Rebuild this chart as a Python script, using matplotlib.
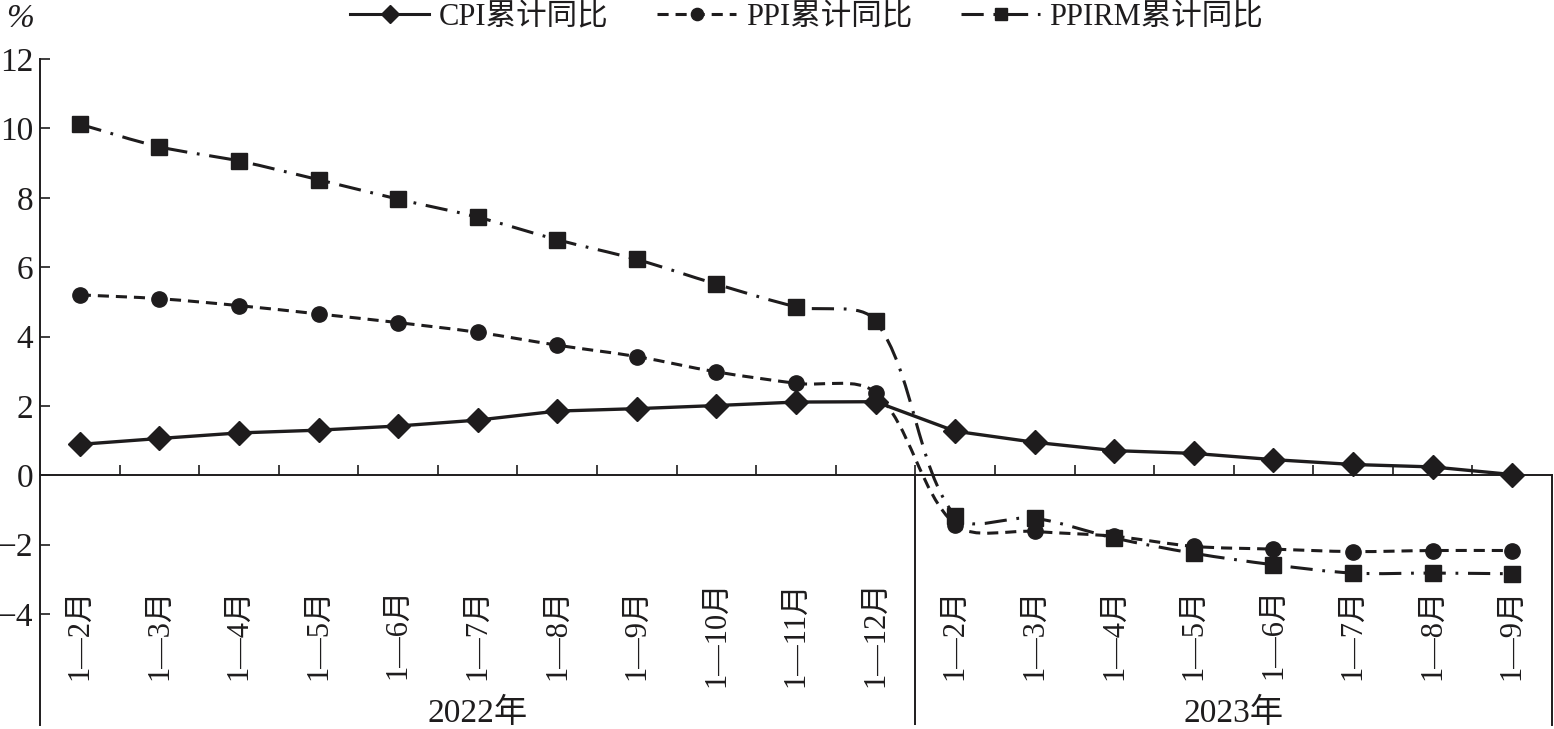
import numpy as np
import matplotlib
matplotlib.use('Agg')
import matplotlib.pyplot as plt
from matplotlib.path import Path
from matplotlib.patches import PathPatch
from matplotlib.lines import Line2D

plt.rcParams['font.family'] = ['Liberation Serif', 'Noto Sans CJK SC']
plt.rcParams['axes.unicode_minus'] = True
plt.rcParams['lines.scale_dashes'] = False

months_2022 = ['1—2月', '1—3月', '1—4月', '1—5月', '1—6月', '1—7月',
               '1—8月', '1—9月', '1—10月', '1—11月', '1—12月']
months_2023 = ['1—2月', '1—3月', '1—4月', '1—5月', '1—6月', '1—7月',
               '1—8月', '1—9月']
years = ['2022年', '2023年']

cpi = [0.89, 1.06, 1.22, 1.30, 1.42, 1.59, 1.85, 1.92, 2.01, 2.11, 2.12,
       1.27, 0.95, 0.71, 0.63, 0.45, 0.31, 0.24, 0.02]
ppi = [5.20, 5.09, 4.89, 4.65, 4.40, 4.12, 3.75, 3.42, 2.98, 2.65, 2.38,
       -1.42, -1.62, -1.76, -2.05, -2.13, -2.20, -2.17, -2.17]
ppirm = [10.12, 9.47, 9.06, 8.52, 7.96, 7.44, 6.79, 6.22, 5.51, 4.86, 4.45,
         -1.18, -1.24, -1.81, -2.25, -2.58, -2.82, -2.82, -2.84]

labels = months_2022 + months_2023
x = np.arange(len(labels))
n22 = len(months_2022)

ink = '#1e1c1d'
fig = plt.figure(figsize=(15.54, 7.29), dpi=100)
ax = fig.add_axes([40 / 1554, 4 / 729, 1512 / 1554, 666 / 729])
ymin, ymax = -7.2, 12
ax.set_xlim(-0.5, len(labels) - 0.5)
ax.set_ylim(ymin, ymax)

ax.spines['top'].set_visible(False)
ax.spines['left'].set_linewidth(1.4)
ax.spines['left'].set_color(ink)
ax.spines['bottom'].set_position(('data', 0))
ax.spines['bottom'].set_linewidth(1.4)
ax.spines['bottom'].set_color(ink)
ax.spines['right'].set_bounds(ymin, 0)
ax.spines['right'].set_linewidth(1.4)
ax.spines['right'].set_color(ink)

ax.set_yticks(np.arange(-4, 13, 2))
ax.tick_params(axis='y', direction='in', length=7, width=1.2, pad=5,
               labelsize=24, colors=ink)
ax.set_xticks(np.arange(0.5, len(labels) - 1, 1))
ax.set_xticklabels([])
ax.tick_params(axis='x', direction='in', length=7, width=1.2, colors=ink)

# divider between years
ax.axvline(n22 - 0.5, ymin=0, ymax=(0 - ymin) / (ymax - ymin), color=ink, lw=1.4)


def smooth(xs, ys, t=1 / 3):
    pts = ax.transData.transform(np.column_stack([xs, ys]))
    n = len(pts)
    verts = [pts[0]]
    codes = [Path.MOVETO]
    for i in range(n - 1):
        p0 = pts[max(i - 1, 0)]
        p1 = pts[i]
        p2 = pts[i + 1]
        p3 = pts[min(i + 2, n - 1)]
        d01 = np.hypot(*(p1 - p0))
        d12 = np.hypot(*(p2 - p1))
        d23 = np.hypot(*(p3 - p2))
        c1 = p1 + (p2 - p0) * t * d12 / (d01 + d12)
        c2 = p2 - (p3 - p1) * t * d12 / (d12 + d23)
        verts += [c1, c2, p2]
        codes += [Path.CURVE4] * 3
    verts = ax.transData.inverted().transform(np.array(verts))
    return Path(verts, codes)


styles = [
    (cpi, '-', 'D', 12, 'CPI累计同比', False),
    (ppi, (0, (8, 5)), 'o', 11, 'PPI累计同比', True),
    (ppirm, (0, (16, 7, 2, 7)), 's', 11.5, 'PPIRM累计同比', True),
]
handles = []
for vals, ls, mk, ms, name, curved in styles:
    if curved:
        ax.add_patch(PathPatch(smooth(x, vals), fill=False, edgecolor=ink,
                               lw=2.2, linestyle=ls, capstyle='butt', zorder=2))
        ax.plot(x, vals, linestyle='none', marker=mk, markersize=ms,
                color=ink, zorder=3)
    else:
        ax.plot(x, vals, linestyle=ls, lw=2.4, marker=mk, markersize=ms,
                color=ink, zorder=3)
    handles.append(Line2D([], [], color=ink, lw=2.2, linestyle=ls, marker=mk,
                          markersize=ms * 0.8))

for xi, lab in zip(x, labels):
    ax.text(xi, -4.57, lab, rotation=90, ha='center', va='center',
            fontsize=22, color=ink)

ax.text((n22 - 1) / 2, -6.88, years[0], ha='center', va='center',
        fontsize=24, color=ink)
ax.text(n22 + (len(months_2023) - 1) / 2, -6.88, years[1], ha='center',
        va='center', fontsize=24, color=ink)

fig.text(20 / 1554, 1 - 19 / 729, '%', ha='center', va='center',
         fontsize=24, style='italic', color=ink)

fig.legend(handles, [s[4] for s in styles], loc='center',
           bbox_to_anchor=(0.519, 1 - 17 / 729), ncol=3, frameon=False,
           fontsize=22, handlelength=2.6, handletextpad=0.3,
           columnspacing=1.6, labelcolor=ink)

fig.savefig('out.png', dpi=100)
